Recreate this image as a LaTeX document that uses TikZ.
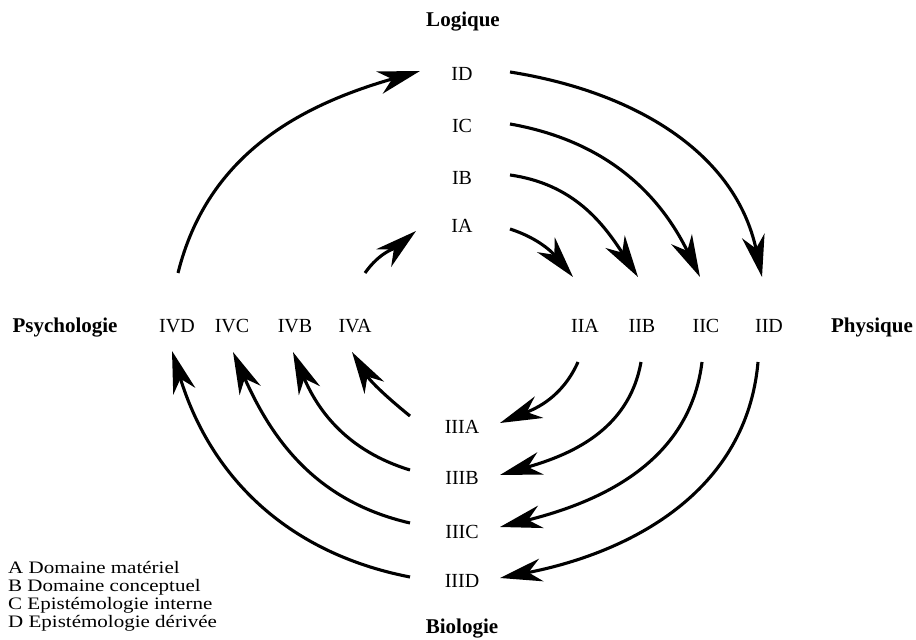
\documentclass[tikz,border=0pt]{standalone}
\usepackage{fontspec}
\setmainfont{Liberation Serif}
\newfontfamily\legfont[FakeStretch=1.2]{Liberation Serif}
\usetikzlibrary{arrows.meta}
\tikzset{
  lab/.style={inner sep=0pt, text height=14pt, text depth=0pt, font=\fontsize{20}{24}\selectfont},
  dom/.style={inner sep=0pt, text height=14pt, text depth=0pt, font=\fontsize{21}{25}\selectfont\bfseries},
  leg/.style={inner sep=0pt, anchor=base west, font=\legfont\fontsize{17.5}{20}\selectfont},
  arr/.style={line width=3.1pt, -{Stealth[length=42pt, width=23pt, inset=13pt]}}
}
\begin{document}
\begin{tikzpicture}[x=1pt,y=1pt]
\useasboundingbox (0,0) rectangle (916,640);
% domain labels
\node[dom] (log) at (463,620) {Logique};
\node[dom] (psy) at (65,314) {Psychologie};
\node[dom] (phy) at (872,314) {Physique};
\node[dom] (bio) at (462,13) {Biologie};
% I
\node[lab] (ID) at (462,566) {ID};
\node[lab] (IC) at (462,514) {IC};
\node[lab] (IB) at (462,462) {IB};
\node[lab] (IA) at (462,414) {IA};
% II
\node[lab] (IIA) at (585,314) {IIA};
\node[lab] (IIB) at (642,314) {IIB};
\node[lab] (IIC) at (706,314) {IIC};
\node[lab] (IID) at (769,314) {IID};
% IV
\node[lab] (IVD) at (177,314) {IVD};
\node[lab] (IVC) at (232,314) {IVC};
\node[lab] (IVB) at (295,314) {IVB};
\node[lab] (IVA) at (355,314) {IVA};
% III
\node[lab] (IIIA) at (462,213) {IIIA};
\node[lab] (IIIB) at (462,162) {IIIB};
\node[lab] (IIIC) at (462,108) {IIIC};
\node[lab] (IIID) at (462,59) {IIID};
% legend
\node[leg] (l1) at (8,66) {A Domaine matériel};
\node[leg] (l2) at (8,48) {B Domaine conceptuel};
\node[leg] (l3) at (8,30) {C Epistémologie interne};
\node[leg] (l4) at (8,12) {D Epistémologie dérivée};
% I -> II
\draw[arr] ([shift={(48,2)}]ID.center) to[out=-9,in=102] ([shift={(-7,49)}]IID.center);
\draw[arr] ([shift={(48,2)}]IC.center) to[out=-10,in=116] ([shift={(-6,49)}]IIC.center);
\draw[arr] ([shift={(48,3)}]IB.center) to[out=-8,in=123] ([shift={(-4,49)}]IIB.center);
\draw[arr] ([shift={(48,-3)}]IA.center) to[out=-18,in=130] ([shift={(-12,49)}]IIA.center);
% IV -> I
\draw[arr] ([shift={(1,53)}]IVD.center) to[out=76,in=-164] ([shift={(-42,3)}]ID.center);
\draw[arr] ([shift={(10,53)}]IVA.center) to[out=55,in=220] ([shift={(-46,-5)}]IA.center);
% II -> III
\draw[arr] ([shift={(-7,-36)}]IIA.center) to[out=-114,in=22] ([shift={(38,4)}]IIIA.center);
\draw[arr] ([shift={(-1,-36)}]IIB.center) to[out=-100,in=16] ([shift={(38,3)}]IIIB.center);
\draw[arr] ([shift={(-4,-36)}]IIC.center) to[out=-97,in=14] ([shift={(38,5)}]IIIC.center);
\draw[arr] ([shift={(-11,-36)}]IID.center) to[out=-95,in=11] ([shift={(38,3)}]IIID.center);
% III -> IV
\draw[arr] ([shift={(-52,11)}]IIIA.center) to[out=141,in=-58] ([shift={(-3,-26)}]IVA.center);
\draw[arr] ([shift={(-52,8)}]IIIB.center) to[out=163,in=-67] ([shift={(-2,-26)}]IVB.center);
\draw[arr] ([shift={(-52,9)}]IIIC.center) to[out=167,in=-66] ([shift={(1,-26)}]IVC.center);
\draw[arr] ([shift={(-52,4)}]IIID.center) to[out=169,in=-73] ([shift={(-5,-25)}]IVD.center);
\end{tikzpicture}
\end{document}
